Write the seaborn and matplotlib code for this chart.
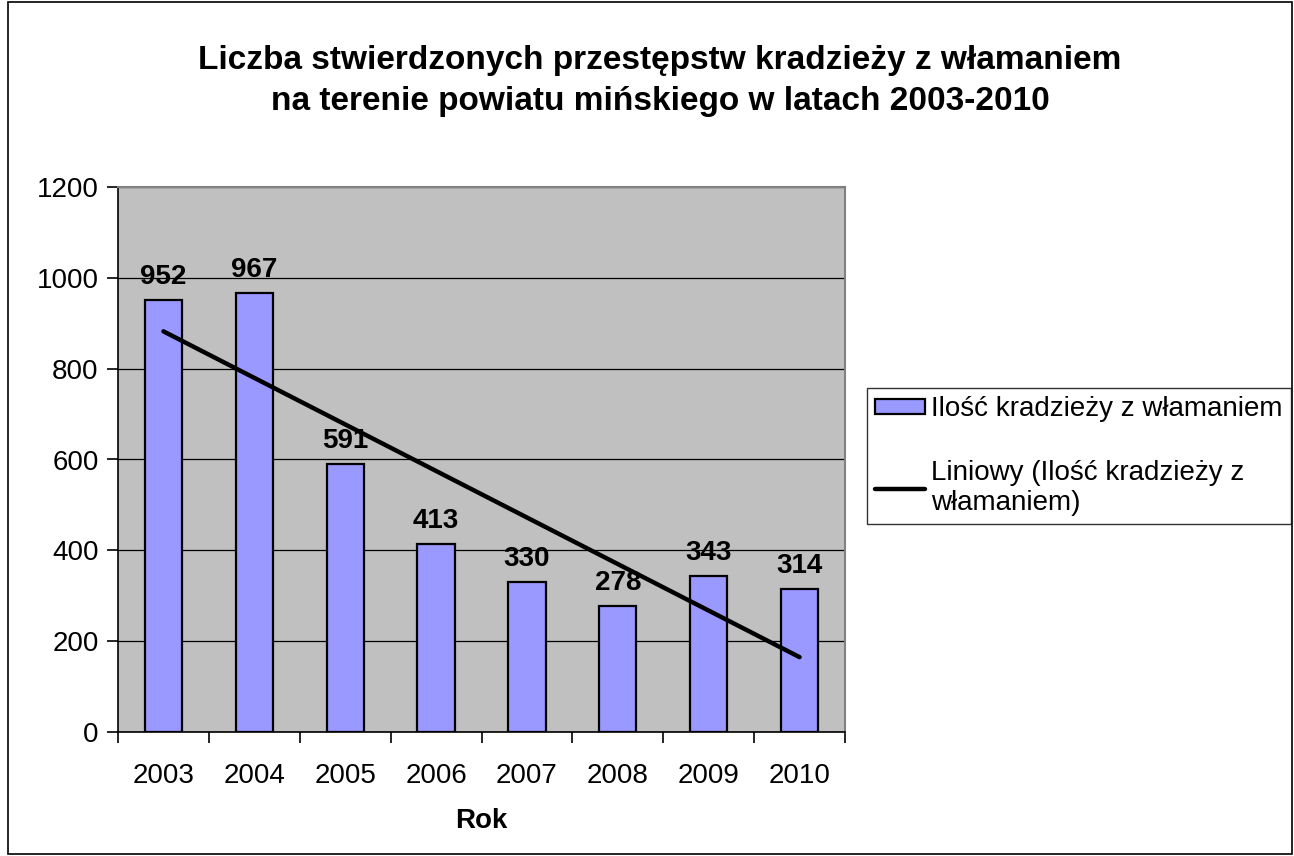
import numpy as np
import pandas as pd
import matplotlib
matplotlib.use("Agg")
import matplotlib.pyplot as plt
import seaborn as sns
from matplotlib.patches import Rectangle, Patch
from matplotlib.lines import Line2D

years = ["2003", "2004", "2005", "2006", "2007", "2008", "2009", "2010"]
values = [952, 967, 591, 413, 330, 278, 343, 314]
yticks = [0, 200, 400, 600, 800, 1000, 1200]

title = "Liczba stwierdzonych przestępstw kradzieży z włamaniem\nna terenie powiatu mińskiego w latach 2003-2010"
bar_label = "Ilość kradzieży z włamaniem"
trend_label = "Liniowy (Ilość kradzieży z\nwłamaniem)"

sns.set_theme(style="white")
plt.rcParams['font.family'] = ['Liberation Sans', 'DejaVu Sans']
plt.rcParams['text.color'] = 'black'
plt.rcParams['axes.labelcolor'] = 'black'
plt.rcParams['xtick.color'] = 'black'
plt.rcParams['ytick.color'] = 'black'

df = pd.DataFrame({"Rok": years, "Ilosc": values})

fig = plt.figure(figsize=(12.94, 8.56), dpi=100)
ax = fig.add_axes([118/1294, 1-732/856, (845-118)/1294, (732-187)/856])
ax.set_facecolor("#C0C0C0")

sns.barplot(data=df, x="Rok", y="Ilosc", color="#9999FF", edgecolor="black",
            linewidth=1.6, width=0.41, saturation=1, ax=ax, zorder=3)

# linear trend
xi = np.arange(len(values))
coef = np.polyfit(xi, values, 1)
trend = np.polyval(coef, xi)
sns.lineplot(x=xi, y=trend, color="black", linewidth=3.2, ax=ax, zorder=4)

for i, v in enumerate(values):
    ax.text(i, v + 22, str(v), ha="center", va="bottom", fontsize=20,
            fontweight="bold", color="black", zorder=5)

ax.set_xlim(-0.5, len(years) - 0.5)
ax.set_ylim(0, 1200)
ax.set_yticks(yticks)
ax.set_yticklabels([str(t) for t in yticks], fontsize=20)
ax.yaxis.grid(True, color="black", linewidth=0.9)
ax.set_axisbelow(True)

ax.set_xticks(xi)
ax.set_xticklabels(years, fontsize=20)
ax.set_xticks(np.arange(-0.5, len(years)), minor=True)
ax.tick_params(axis="x", which="major", bottom=True, length=0, pad=22)
ax.tick_params(axis="x", which="minor", bottom=True, length=8, width=1.2,
               color="black", direction="out")
ax.tick_params(axis="y", length=8, width=1.2, color="black", direction="out",
               left=True, pad=6)

ax.set_xlabel("Rok", fontsize=20, fontweight="bold", labelpad=14)
ax.set_ylabel("")

for s in ["top", "right"]:
    ax.spines[s].set_color("#808080")
    ax.spines[s].set_linewidth(1.5)
for s in ["left", "bottom"]:
    ax.spines[s].set_color("black")
    ax.spines[s].set_linewidth(1.2)

fig.suptitle(title, fontsize=24, fontweight="bold", y=1-45/856, va="top", x=660/1294,
             linespacing=1.42, color="black")

handles = [Patch(facecolor="#9999FF", edgecolor="black", linewidth=1.6, label=bar_label),
           Line2D([0], [0], color="black", linewidth=3.2, label=trend_label)]
leg = fig.legend(handles=handles, loc="upper left", bbox_to_anchor=(867/1294, 1-388/856),
                 frameon=True, fancybox=False, edgecolor="black", fontsize=20,
                 borderaxespad=0, labelspacing=1.35, handlelength=1.8, handleheight=0.5,
                 handletextpad=0.2, borderpad=0.3)
leg.get_frame().set_linewidth(1.0)

fig.patches.append(Rectangle((8/1294, 2/856), 1 - 10/1294, 1 - 4/856,
                             transform=fig.transFigure, fill=False,
                             edgecolor="black", linewidth=1.2))

fig.savefig("out.png", dpi=100, facecolor="white")
